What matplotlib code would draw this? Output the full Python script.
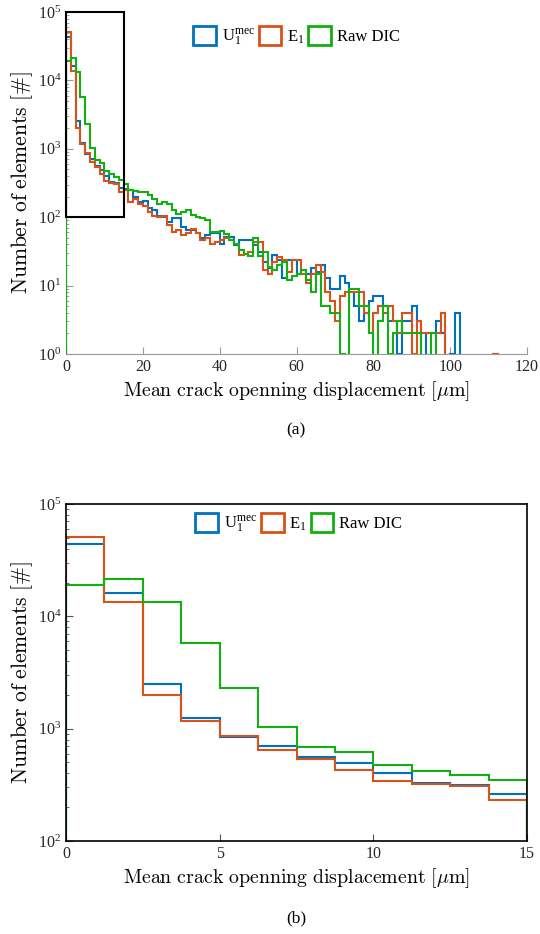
import numpy as np
import matplotlib
matplotlib.use("Agg")
import matplotlib.pyplot as plt
from matplotlib.patches import Rectangle, Patch
from matplotlib.ticker import LogLocator, NullFormatter

plt.rcParams['font.family'] = ['Liberation Serif', 'DejaVu Serif']
plt.rcParams['mathtext.fontset'] = 'cm'

# Histogram data (bin width 1.25 um, counts per bin)
bin_width = 1.25

u_mec = [43600, 16100, 2520, 1236, 843, 705, 559, 490, 402, 327, 316, 264,
         262, 254, 198, 167, 173, 138, 129, 103, 101, 85, 98, 98, 71, 66, 66, 58, 49, 55, 58,
         58, 41, 52, 52, 39, 46, 47, 46, 39, 31, 22, 18, 28, 24, 13, 24, 24, 15, 17, 15,
         18, 16, 20, 13, 9, 9, 14, 11, 8, 5, 3, 4, 6, 7, 7, 5, 3, 3, 1, 3,
         3, 5, 3, 0, 2, 2, 3, 2, 0, 1, 4, 0, 0, 0, 0, 0, 0, 0, 1]

e_1 = [51000, 13500, 2010, 1172, 867, 640, 536, 433, 343, 321, 310, 232,
       248, 167, 187, 158, 145, 120, 103, 101, 103, 76, 61, 65, 55, 58, 68, 58, 46, 50, 41,
       44, 46, 49, 47, 41, 28, 29, 31, 44, 44, 17, 15, 22, 26, 24, 16, 24, 24, 15, 11,
       15, 20, 16, 8, 6, 3, 7, 8, 8, 8, 8, 4, 2, 4, 5, 4, 5, 3, 2, 4,
       4, 1, 3, 2, 2, 2, 2, 4, 0, 0, 0, 0, 0, 0, 0, 0, 0, 0, 1]

raw_dic = [19000, 21400, 13300, 5740, 2320, 1028, 685, 623, 477, 422, 383, 352,
           310, 248, 240, 234, 234, 210, 187, 158, 167, 158, 129, 113, 120, 129, 107, 101, 96, 90, 60,
           60, 63, 57, 47, 40, 33, 29, 27, 50, 27, 31, 19, 17, 20, 22, 12, 14, 15, 17, 12,
           8, 15, 5, 5, 4, 4, 1, 0, 9, 9, 5, 5, 2, 0, 3, 5, 1, 2, 3, 2,
           2, 2, 2, 0, 0, 2, 0, 0, 0, 0, 0, 0, 0, 0, 0, 0, 0, 0, 0]

labels = [r"$\mathdefault{U}_{\mathdefault{1}}^{\mathdefault{mec}}$", r"$\mathdefault{E}_{\mathdefault{1}}$", "Raw DIC"]
colors = ["#0072BD", "#D95319", "#12B012"]

edges = np.arange(len(u_mec) + 1) * bin_width
series = [u_mec, e_1, raw_dic]
n_zoom = 12  # bins below 15 um

fig = plt.figure(figsize=(5.4, 9.34), dpi=100)
W, H = 540, 934


def axes_px(left, top, right, bottom):
    return fig.add_axes([left / W, 1 - bottom / H, (right - left) / W, (bottom - top) / H])


xlab = r"$\mathrm{Mean\ crack\ openning\ displacement\ [\mu m]}$"
ylab = r"$\mathrm{Number\ of\ elements\ [\#]}$"

# (a) full range
ax1 = axes_px(66, 12, 527, 354)
for vals, c in zip(series, colors):
    ax1.stairs(np.array(vals, dtype=float), edges, color=c, lw=1.5, baseline=0, zorder=3)
ax1.set_yscale('log')
ax1.set_xlim(0, 120)
ax1.set_ylim(1, 1e5)
ax1.set_xticks(np.arange(0, 121, 20))
ax1.yaxis.set_major_locator(LogLocator(base=10, numticks=10))
ax1.yaxis.set_minor_locator(LogLocator(base=10, subs=np.arange(2, 10), numticks=20))
ax1.yaxis.set_minor_formatter(NullFormatter())
for s in ['top', 'right']:
    ax1.spines[s].set_visible(False)
for s in ['left', 'bottom']:
    ax1.spines[s].set_color('#9a9a9a')
ax1.tick_params(which='both', direction='in', colors='#9a9a9a', labelcolor='#262626', labelsize=11.5)
ax1.tick_params(which='major', length=5)
ax1.tick_params(which='minor', length=2.5)
ax1.add_patch(Rectangle((0, 100), 15, 1e5 - 100, fill=False, edgecolor='black', lw=1.5, clip_on=False, zorder=5))
ax1.set_xlabel(xlab, fontsize=14.3, labelpad=3)
ax1.set_ylabel(ylab, fontsize=15.5, labelpad=2)

handles = [Patch(facecolor='white', edgecolor=c, lw=2) for c in colors]
leg_kw = dict(ncol=3, frameon=False, fontsize=12, handlelength=1.35, handleheight=1.35,
              handletextpad=0.35, columnspacing=0.2, borderpad=0.2, loc='center')
ax1.legend(handles, labels, bbox_to_anchor=(0.5, 0.927), **leg_kw)

# (b) zoom 0-15 um
ax2 = axes_px(66, 504, 527, 841)
for vals, c in zip(series, colors):
    ax2.stairs(np.array(vals[:n_zoom], dtype=float), edges[:n_zoom + 1], color=c, lw=1.5, baseline=0)
ax2.set_yscale('log')
ax2.set_xlim(0, 15)
ax2.set_ylim(100, 1e5)
ax2.set_xticks([0, 5, 10, 15])
ax2.yaxis.set_minor_locator(LogLocator(base=10, subs=np.arange(2, 10), numticks=20))
ax2.yaxis.set_minor_formatter(NullFormatter())
for s in ax2.spines.values():
    s.set_color('black')
    s.set_linewidth(1.2)
ax2.tick_params(which='both', direction='in', colors='#555555', labelcolor='#262626', labelsize=11.5)
ax2.tick_params(which='major', length=5)
ax2.tick_params(which='minor', length=2.5)
ax2.set_xlabel(xlab, fontsize=14.3, labelpad=3)
ax2.set_ylabel(ylab, fontsize=15.5, labelpad=2)
ax2.legend(handles, labels, bbox_to_anchor=(0.505, 0.94), **leg_kw)

fig.text(296 / W, 1 - 430 / H, "(a)", ha='center', va='center', fontsize=12.5)
fig.text(296 / W, 1 - 918 / H, "(b)", ha='center', va='center', fontsize=12.5)

fig.savefig("out.png", dpi=100)
